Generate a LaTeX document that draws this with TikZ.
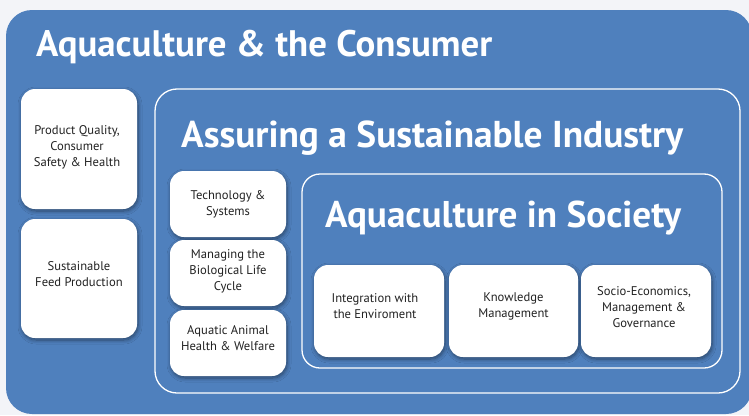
\documentclass[tikz,border=0pt]{standalone}
\usepackage{fontspec}
\setmainfont{PT Sans}
\usetikzlibrary{shadows.blur}
\definecolor{panelblue}{HTML}{4F80BD}
\definecolor{bgcol}{HTML}{F3F4F8}
\definecolor{textgrey}{HTML}{222222}
\begin{document}
\begin{tikzpicture}[x=1pt,y=-1pt,
  panel/.style={fill=panelblue, rounded corners=26pt},
  frame/.style={draw=white, line width=1.3pt, rounded corners=22pt},
  box/.style={fill=white, rounded corners=14pt, inner sep=0pt,
    blur shadow={shadow xshift=1pt, shadow yshift=-2pt, shadow blur steps=8, shadow blur radius=4pt, shadow opacity=45}},
  boxtext/.style={align=center, font=\fontsize{12.6}{16}\selectfont, text=textgrey, inner sep=0pt},
  title/.style={font=\bfseries\fontsize{34}{40}\selectfont, text=white, anchor=base west, inner sep=0pt}]
\useasboundingbox[fill=bgcol] (0,0) rectangle (749,415);
\fill[panel] (6,10) rectangle (752,414);
% titles
\node[title] (t1) at (36,56) {\resizebox{456pt}{!}{Aquaculture \& the Consumer}};
% outer frame
\draw[frame] (155,89) rectangle (740,393);
\node[title] (t2) at (181,147) {\resizebox{502pt}{!}{Assuring a Sustainable Industry}};
% inner frame
\draw[frame, rounded corners=18pt] (302,174) rectangle (722,368);
\node[title] (t3) at (325,227) {\resizebox{356pt}{!}{Aquaculture in Society}};
% left boxes
\node[box, minimum width=116pt, minimum height=120pt] (pq) at (79,149) {};
\node[boxtext] (pqt) at (77,147) {Product Quality,\\Consumer\\Safety \& Health};
\node[box, minimum width=116pt, minimum height=119pt] (sf) at (79,278.5) {};
\node[boxtext] (sft) at (79,274) {Sustainable\\Feed Production};
% middle column
\node[box, minimum width=116pt, minimum height=66pt] (ts) at (228,204) {};
\node[boxtext] (tst) at (228,204) {Technology \&\\Systems};
\node[box, minimum width=116pt, minimum height=66pt] (mb) at (228,273) {};
\node[boxtext] (mbt) at (228,271) {Managing the\\Biological Life\\Cycle};
\node[box, minimum width=116pt, minimum height=66pt] (ah) at (228,343) {};
\node[boxtext] (aht) at (228,338) {Aquatic Animal\\Health \& Welfare};
% bottom boxes
\node[box, minimum width=130pt, minimum height=92pt] (ie) at (379,311) {};
\node[boxtext] (iet) at (375,306) {Integration with\\the Enviroment};
\node[box, minimum width=129pt, minimum height=92pt] (km) at (513.5,311) {};
\node[boxtext] (kmt) at (513.5,306) {Knowledge\\Management};
\node[box, minimum width=130pt, minimum height=92pt] (se) at (646,311) {};
\node[boxtext] (set) at (644,307) {Socio-Economics,\\Management \&\\Governance};
\end{tikzpicture}
\end{document}
